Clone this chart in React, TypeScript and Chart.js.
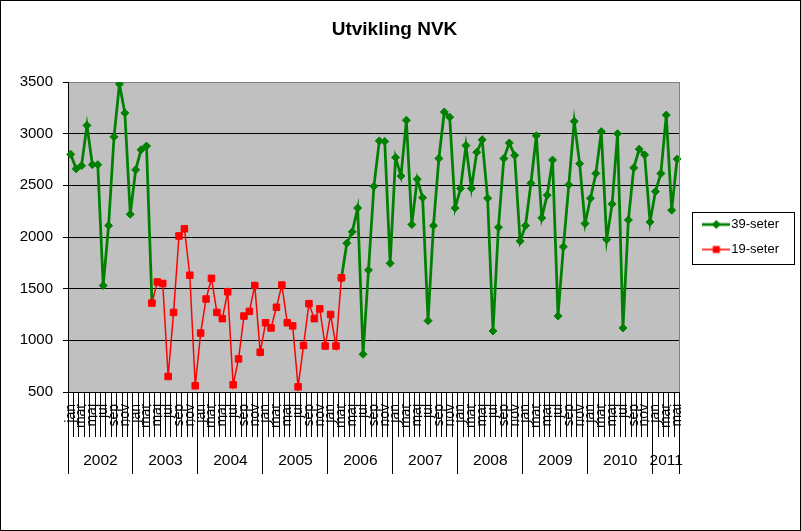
import React, { useEffect, useRef } from 'react';
import { Chart, registerables } from 'chart.js';

Chart.register(...registerables);

// ---- Data ----
const monthNames = ['jan', 'feb', 'mar', 'apr', 'mai', 'jun', 'jul', 'aug', 'sep', 'okt', 'nov', 'des'];
const years = ['2002', '2003', '2004', '2005', '2006', '2007', '2008', '2009', '2010', '2011'];
const monthsPerYear = [12, 12, 12, 12, 12, 12, 12, 12, 12, 5];
const yTicks = [500, 1000, 1500, 2000, 2500, 3000, 3500];

// 39-seter, one value per month from jan 2002 to mai 2011 (null = no data)
const seter39: (number | null)[] = [
  // 2002
  2800, 2660, 2690, 3080, 2700, 2700, 1530, 2110, 2970, 3480, 3200, 2220,
  // 2003
  2650, 2845, 2880, 1370, null, null, null, null, null, null, null, null,
  // 2004
  null, null, null, null, null, null, null, null, null, null, null, null,
  // 2005
  null, null, null, null, null, null, null, null, null, null, null, null,
  // 2006
  null, null, 1600, 1940, 2050, 2280, 865, 1680, 2490, 2930, 2925, 1745,
  // 2007
  2770, 2590, 3130, 2120, 2560, 2380, 1190, 2110, 2760, 3210, 3160, 2280,
  // 2008
  2470, 2885, 2470, 2820, 2940, 2375, 1090, 2095, 2760, 2910, 2790, 1960,
  // 2009
  2110, 2520, 2980, 2185, 2405, 2745, 1235, 1905, 2505, 3120, 2710, 2130,
  // 2010
  2375, 2615, 3020, 1975, 2320, 3000, 1120, 2165, 2670, 2850, 2795, 2145,
  // 2011
  2440, 2615, 3180, 2260, 2755,
];

// 19-seter
const seter19: (number | null)[] = [
  // 2002
  null, null, null, null, null, null, null, null, null, null, null, null,
  // 2003
  null, null, null, 1360, 1565, 1550, 650, 1270, 2010, 2080, 1630, 560,
  // 2004
  1070, 1400, 1600, 1270, 1210, 1470, 570, 820, 1235, 1280, 1530, 885,
  // 2005
  1170, 1120, 1320, 1535, 1170, 1140, 550, 950, 1355, 1210, 1305, 945,
  // 2006
  1250, 945, 1605, null, null, null, null, null, null, null, null, null,
  // 2007
  null, null, null, null, null, null, null, null, null, null, null, null,
  // 2008
  null, null, null, null, null, null, null, null, null, null, null, null,
  // 2009
  null, null, null, null, null, null, null, null, null, null, null, null,
  // 2010
  null, null, null, null, null, null, null, null, null, null, null, null,
  // 2011
  null, null, null, null, null,
];

// ---- Derived category structures ----
const categories: string[] = [];
years.forEach((_, yi) => {
  for (let m = 0; m < monthsPerYear[yi]; m++) categories.push(monthNames[m]);
});

type YearTick = { value: number; label: string; boundary: boolean };
const yearTicks: YearTick[] = [];
{
  let start = 0;
  years.forEach((y, yi) => {
    const n = monthsPerYear[yi];
    yearTicks.push({ value: start - 0.5, label: '', boundary: true });
    yearTicks.push({ value: start + (n - 1) / 2, label: y, boundary: false });
    start += n;
  });
  yearTicks.push({ value: start - 0.5, label: '', boundary: true });
}
const totalMonths = categories.length;

const FONT = 'Arial, "Liberation Sans", sans-serif';
const GREEN = '#008000';
const RED = '#FF0000';

function makeIcon(kind: 'green' | 'red'): HTMLCanvasElement {
  const c = document.createElement('canvas');
  c.width = 28;
  c.height = 12;
  const g = c.getContext('2d')!;
  if (kind === 'green') {
    g.strokeStyle = GREEN;
    g.lineWidth = 2.75;
    g.beginPath();
    g.moveTo(0, 6);
    g.lineTo(28, 6);
    g.stroke();
    g.fillStyle = GREEN;
    g.beginPath();
    g.moveTo(14, 1.5);
    g.lineTo(18.5, 6);
    g.lineTo(14, 10.5);
    g.lineTo(9.5, 6);
    g.closePath();
    g.fill();
  } else {
    g.strokeStyle = RED;
    g.lineWidth = 1.5;
    g.beginPath();
    g.moveTo(0, 6);
    g.lineTo(28, 6);
    g.stroke();
    g.fillStyle = RED;
    g.fillRect(10.5, 2.5, 7, 7);
  }
  return c;
}

const framePlugin = {
  id: 'frame',
  beforeDraw(chart: any) {
    const { ctx, chartArea: a } = chart;
    ctx.save();
    ctx.fillStyle = '#ffffff';
    ctx.fillRect(0, 0, chart.width, chart.height);
    ctx.fillStyle = '#C0C0C0';
    ctx.fillRect(a.left, a.top, a.right - a.left, a.bottom - a.top);
    ctx.restore();
  },
  afterDraw(chart: any) {
    const { ctx, chartArea: a } = chart;
    ctx.save();
    // plot area right border
    ctx.strokeStyle = '#808080';
    ctx.lineWidth = 1;
    ctx.beginPath();
    const rx = Math.round(a.right) - 0.5;
    ctx.moveTo(rx, Math.round(a.top));
    ctx.lineTo(rx, Math.round(a.bottom));
    ctx.stroke();
    // legend border
    const hbs = chart.legend?.legendHitBoxes;
    if (hbs && hbs.length) {
      const first = hbs[0];
      const last = hbs[hbs.length - 1];
      let right = 0;
      hbs.forEach((h: any) => (right = Math.max(right, h.left + h.width)));
      const x1 = Math.round(first.left - 15.5) + 0.5;
      const x2 = Math.round(right + 14.5) + 0.5;
      const y1 = Math.round(first.top - 6) + 0.5;
      const y2 = Math.round(last.top + last.height + 8) + 0.5;
      ctx.strokeStyle = '#000';
      ctx.strokeRect(x1, y1, x2 - x1, y2 - y1);
    }
    // outer chart border
    ctx.strokeStyle = '#000';
    ctx.strokeRect(0.5, 0.5, chart.width - 1, chart.height - 1);
    ctx.restore();
  },
};

export default function App() {
  const ref = useRef<HTMLCanvasElement>(null);

  useEffect(() => {
    const canvas = ref.current;
    if (!canvas) return;
    Chart.defaults.font.family = FONT;
    const icons = [makeIcon('green'), makeIcon('red')];

    const chart = new Chart(canvas, {
      type: 'line',
      data: {
        labels: categories,
        datasets: [
          {
            label: '39-seter',
            data: seter39,
            xAxisID: 'x',
            yAxisID: 'y',
            order: 1,
            borderColor: GREEN,
            backgroundColor: GREEN,
            borderWidth: 2.75,
            pointStyle: 'rectRot',
            pointRadius: 4,
            pointBorderWidth: 1,
            pointBackgroundColor: GREEN,
            pointBorderColor: GREEN,
            tension: 0,
            spanGaps: false,
          },
          {
            label: '19-seter',
            data: seter19,
            xAxisID: 'x',
            yAxisID: 'y',
            order: 0,
            borderColor: RED,
            backgroundColor: RED,
            borderWidth: 1.5,
            pointStyle: 'rect',
            pointRadius: 4.6,
            pointBorderWidth: 1,
            pointBackgroundColor: RED,
            pointBorderColor: RED,
            tension: 0,
            spanGaps: false,
          },
        ],
      },
      options: {
        responsive: false,
        animation: false,
        devicePixelRatio: 1,
        events: [],
        layout: { padding: { left: 0, right: 12, top: 0, bottom: 0 } },
        scales: {
          y: {
            type: 'linear',
            position: 'left',
            min: yTicks[0],
            max: yTicks[yTicks.length - 1],
            afterBuildTicks: (s: any) => {
              s.ticks = yTicks.map((v) => ({ value: v }));
            },
            afterFit: (s: any) => {
              s.width = 68;
            },
            grid: {
              color: (ctx: any) => (ctx.tick && ctx.tick.value === 3500 ? '#808080' : '#000000'),
              tickColor: '#000000',
              tickLength: 5,
              lineWidth: 1,
            },
            border: { display: true, color: '#000000', width: 1 },
            ticks: {
              color: '#000000',
              font: { size: 15, family: FONT },
              padding: 10,
              callback: (v: any) => String(v),
            },
          },
          yR: {
            type: 'linear',
            position: 'right',
            display: true,
            grid: { display: false, drawTicks: false },
            border: { display: false },
            ticks: { display: false },
            afterFit: (s: any) => {
              s.width = 16;
            },
          },
          x: {
            type: 'category',
            position: 'bottom',
            offset: true,
            weight: 0,
            grid: {
              offset: true,
              drawOnChartArea: false,
              color: '#000000',
              tickLength: 45,
              lineWidth: 1,
            },
            border: { display: true, color: '#000000', width: 1 },
            ticks: {
              autoSkip: false,
              minRotation: 90,
              maxRotation: 90,
              padding: -33,
              color: '#000000',
              font: { size: 14, family: FONT },
              callback: (_v: any, i: number) => (i % 2 === 0 ? categories[i] : ''),
            },
            afterFit: (s: any) => {
              s.height = 45;
            },
          },
          x2: {
            type: 'linear',
            position: 'bottom',
            weight: 1,
            min: -0.5,
            max: totalMonths - 0.5,
            afterBuildTicks: (s: any) => {
              s.ticks = yearTicks.map((t) => ({ value: t.value }));
            },
            grid: {
              drawOnChartArea: false,
              tickLength: 37,
              lineWidth: 1,
              color: (ctx: any) => {
                const t = yearTicks[ctx.index];
                return t && t.boundary ? '#000000' : 'rgba(0,0,0,0)';
              },
            },
            border: { display: false },
            ticks: {
              autoSkip: false,
              maxRotation: 0,
              minRotation: 0,
              padding: -23,
              color: '#000000',
              font: { size: 15.5, family: FONT },
              callback: (_v: any, i: number) => (yearTicks[i] ? yearTicks[i].label : ''),
            },
            afterFit: (s: any) => {
              s.height = 94;
            },
          },
        },
        plugins: {
          title: {
            display: true,
            text: 'Utvikling NVK',
            color: '#000000',
            font: { size: 19, weight: 'bold', family: FONT },
            padding: { top: 18.5, bottom: 40.7 },
          },
          legend: {
            display: true,
            position: 'right',
            fullSize: false,
            align: 'center',
            labels: {
              usePointStyle: true,
              pointStyleWidth: 17,
              padding: 12,
              color: '#000000',
              font: { size: 13, family: FONT },
              sort: (a: any, b: any) => a.datasetIndex - b.datasetIndex,
              generateLabels: (ch: any) =>
                (Chart.defaults.plugins.legend.labels.generateLabels as any)(ch).map((item: any) => ({
                  ...item,
                  pointStyle: icons[item.datasetIndex],
                })),
            },
          },
          tooltip: { enabled: false },
        },
      } as any,
      plugins: [framePlugin],
    });

    return () => chart.destroy();
  }, []);

  return (
    <div style={{ position: 'absolute', left: 0, top: 0, width: 801, height: 531 }}>
      <canvas ref={ref} width={801} height={531} style={{ display: 'block', width: 801, height: 531 }} />
    </div>
  );
}
